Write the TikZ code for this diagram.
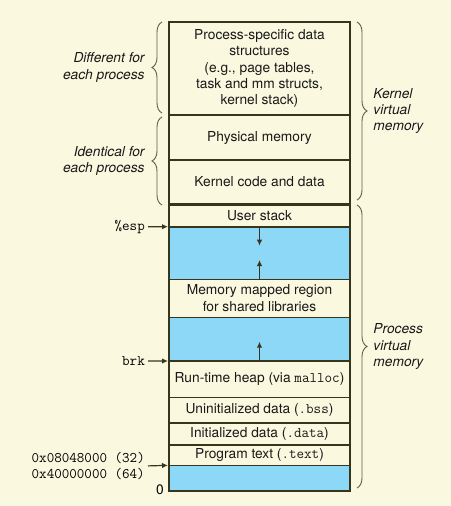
\documentclass[tikz,border=0pt]{standalone}
\usepackage{fontspec}
\setmainfont{TeX Gyre Heros}
\usepackage{tikz}
\usepackage{xcolor}
\definecolor{parchment}{HTML}{FAF8DF}
\definecolor{skyfill}{HTML}{8DD7F7}
\definecolor{ink}{HTML}{36361F}
\definecolor{bracegray}{HTML}{5E5E44}
\usetikzlibrary{arrows.meta,decorations.pathreplacing}
\newcommand{\code}[1]{{\ttfamily\fontsize{14.7}{16.6}\selectfont #1}}

\begin{document}
\begin{tikzpicture}[x=1bp, y=-1bp,
  region/.style={draw=ink, line width=1.6bp, minimum width=181bp, inner sep=0pt,
    outer sep=0pt, align=center, text=black!90, font=\fontsize{13.8}{16.5}\selectfont},
  hole/.style={region, fill=skyfill},
  side/.style={inner sep=0pt, text=black!90, font=\fontsize{13.8}{16.5}\selectfont\itshape},
  curly/.style={draw=bracegray, line width=0.9bp, decorate,
    decoration={brace, amplitude=10bp}},
  reg/.style={inner sep=0pt, anchor=east, align=right,
    font=\ttfamily\fontsize{14.7}{16.6}\selectfont},
  ptr/.style={draw=ink, line width=1.2bp, -{Latex[length=6bp,width=5.5bp]}}]
  % Background
  \fill [parchment] (0, 0) rectangle (451, 506);

  % kernel part
  \node[region, minimum height=93bp] (procdata) at (259.5, 68.5) {
    Process-specific data\\structures\\(e.g., page tables,\\task and mm structs,\\kernel stack)
  };
  \node[region, minimum height=45bp] (physmem) at (259.5, 137.5) {Physical memory};
  \node[region, minimum height=44bp] (kcode) at (259.5, 182) {Kernel code and data};
  \draw[ink, line width=3bp] (kcode.south west) -- (kcode.south east);

  % process part
  \node[region, minimum height=22.7bp] (ustack) at (259.5, 215.35) {User stack};
  \node[hole, minimum height=52.6bp] (stackgap) at (259.5, 253) {};
  \node[region, minimum height=38bp] (mmap) at (259.5, 298.3) {
    Memory mapped region\\for shared libraries
  };
  \node[hole, minimum height=43.7bp] (heapgap) at (259.5, 339.15) {};
  \node[region, minimum height=36.3bp] (heap) at (259.5, 379.15) {Run-time heap (via \code{malloc})};
  \node[region, minimum height=25.4bp] (bss) at (259.5, 410) {Uninitialized data (\code{.bss})};
  \node[region, minimum height=22.3bp] (idata) at (259.5, 433.85) {Initialized data (\code{.data})};
  \node[region, minimum height=20.3bp] (ptext) at (259.5, 455.15) {Program text (\code{.text})};
  \node[hole, minimum height=25.4bp] (lowgap) at (259.5, 478) {};

  % growth arrows
  \coordinate (stackdown) at (259.5, 245.7);
  \coordinate (mmapup) at (259.5, 260);
  \coordinate (heapup) at (259.5, 341.7);
  \draw[ptr] (stackgap.north) -- (stackdown);
  \draw[ptr] (stackgap.south) -- (mmapup);
  \draw[ptr] (heapgap.south) -- (heapup);

  % braces
  \draw[curly] ([xshift=-7bp, yshift=2bp]procdata.south west) --
    node[side, left=17bp, align=right] {Different for\\each process}
    ([xshift=-7bp]procdata.north west);
  \draw[curly] ([xshift=-7bp, yshift=-1bp]kcode.south west) --
    node[side, left=17bp, align=right] {Identical for\\each process}
    ([xshift=-7bp, yshift=-2bp]physmem.north west);
  \draw[curly] ([xshift=7bp]procdata.north east) --
    node[side, right=16bp, align=left] {Kernel\\virtual\\memory}
    ([xshift=7bp, yshift=4bp]kcode.south east);
  \draw[curly] ([xshift=7bp, yshift=-1bp]ustack.north east) --
    node[side, right=16bp, align=left] {Process\\virtual\\memory}
    ([xshift=7bp, yshift=2.7bp]lowgap.south east);

  % pointers
  \node[reg] (esp) at (145, 226.7) {\%esp};
  \node[reg] (brk) at (145, 361) {brk};
  \node[reg] (textaddr) at (145, 466) {0x08048000 (32)\\0x40000000 (64)};
  \node[inner sep=0pt, anchor=east, font=\fontsize{13.8}{16.5}\selectfont] (zero) at (164, 489.5) {0};
  \draw[ptr, shorten <=3bp, shorten >=1bp] (esp.east) -- (stackgap.north west);
  \draw[ptr, shorten <=3bp, shorten >=1bp] (brk.east) -- (heapgap.south west);
  \draw[ptr, shorten <=3bp, shorten >=1bp] (textaddr.east) -- (lowgap.north west);
\end{tikzpicture}
\end{document}
